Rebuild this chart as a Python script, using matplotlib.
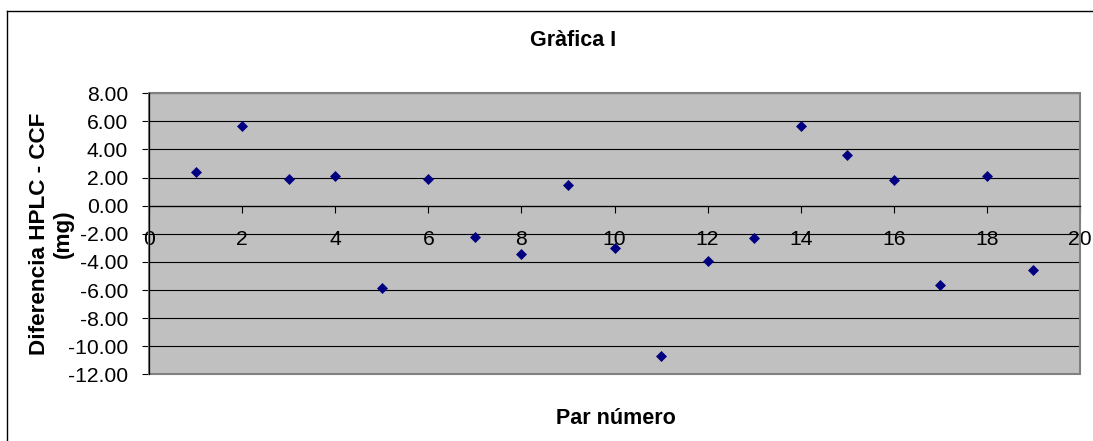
import matplotlib
matplotlib.use("Agg")
import matplotlib.pyplot as plt
from matplotlib.patches import Rectangle
from matplotlib.lines import Line2D
from matplotlib.ticker import FormatStrFormatter, MultipleLocator

plt.rcParams['font.family'] = ['Liberation Sans', 'DejaVu Sans']

# Pair number and HPLC - CCF difference (mg)
par = [1, 2, 3, 4, 5, 6, 7, 8, 9, 10, 11, 12, 13, 14, 15, 16, 17, 18, 19]
diferencia = [2.40, 5.67, 1.92, 2.11, -5.88, 1.92, -2.21, -3.44, 1.50, -3.03,
              -10.72, -3.96, -2.32, 5.65, 3.63, 1.83, -5.67, 2.11, -4.55]

titol = "Gràfica I"
etiqueta_x = "Par número"
etiqueta_y = "Diferencia HPLC - CCF\n(mg)"

W, H = 1093, 441
fig = plt.figure(figsize=(W / 100, H / 100), dpi=100)
fig.patch.set_facecolor('white')

# Chart-area frame (left and top edges visible)
fig.add_artist(Line2D([7 / W, 7 / W], [0, 1 - 11 / H], transform=fig.transFigure,
                      color='black', lw=1.0))
fig.add_artist(Line2D([7 / W, 1], [1 - 11 / H, 1 - 11 / H], transform=fig.transFigure,
                      color='black', lw=1.0))

left, right = 149 / W, 1080 / W
bottom, top = 1 - 374.3 / H, 1 - 93.3 / H
ax = fig.add_axes([left, bottom, right - left, top - bottom])
ax.set_facecolor('#C0C0C0')

ax.set_xlim(0, 20)
ax.set_ylim(-12, 8)
ax.xaxis.set_major_locator(MultipleLocator(2))
ax.yaxis.set_major_locator(MultipleLocator(2))
ax.yaxis.set_major_formatter(FormatStrFormatter('%.2f'))

# Horizontal gridlines
ax.grid(axis='y', color='black', lw=0.8, zorder=1)
ax.set_axisbelow(True)

# Axes: x-axis crosses at y = 0
for side in ['top', 'right']:
    ax.spines[side].set_visible(False)
ax.spines['bottom'].set_position(('data', 0))
ax.spines['bottom'].set_color('black')
ax.spines['bottom'].set_linewidth(0.9)
ax.spines['left'].set_color('black')
ax.spines['left'].set_linewidth(0.9)
ax.add_patch(Rectangle((0, 0), 1, 1, transform=ax.transAxes, fill=False,
                       ec='#808080', lw=1.5, clip_on=False, zorder=2))

ax.tick_params(axis='x', direction='out', length=5, width=0.8, color='black',
               labelsize=15.2, pad=12.5)
ax.tick_params(axis='y', direction='out', length=5, width=0.8, color='black',
               labelsize=15.2, pad=10)

ax.plot(par, diferencia, linestyle='none', marker='D', markersize=5.2,
        color='#000080', mec='#000080', mew=0.5, zorder=5, clip_on=False)

fig.text(573 / W, 1 - 40 / H, titol, ha='center', va='center',
         fontsize=15.5, fontweight='bold')
fig.text(616 / W, 1 - 418 / H, etiqueta_x, ha='center', va='center',
         fontsize=15.5, fontweight='bold')
fig.text(51.5 / W, 1 - 233.5 / H, etiqueta_y, ha='center', va='center',
         rotation=90, multialignment='center', fontsize=16.2, fontweight='bold',
         linespacing=1.15)

fig.savefig('out.png', dpi=100)
